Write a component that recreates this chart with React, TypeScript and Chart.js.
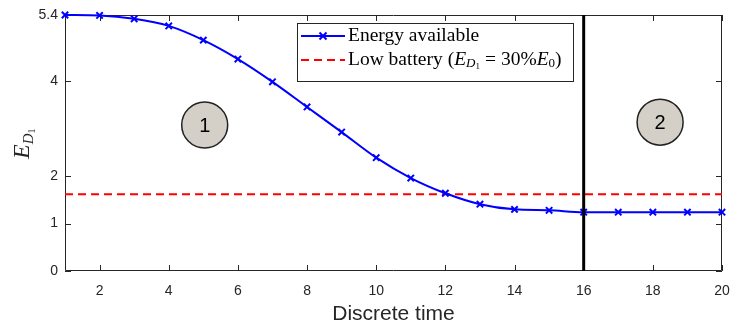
import React, { useEffect, useRef } from "react";
import { Chart, registerables } from "chart.js";
Chart.register(...registerables);

const timeSteps = [1, 2, 3, 4, 5, 6, 7, 8, 9, 10, 11, 12, 13, 14, 15, 16, 17, 18, 19, 20];
const energyAvailable = [5.4, 5.39, 5.32, 5.17, 4.87, 4.47, 3.99, 3.46, 2.93, 2.39, 1.96, 1.64, 1.41, 1.3, 1.28, 1.24, 1.24, 1.24, 1.24, 1.24];
const lowBatteryLevel = 1.62;
const switchTime = 16;
const xTicks = [2, 4, 6, 8, 10, 12, 14, 16, 18, 20];
const yTicks = [0, 1, 2, 4, 5.4];
const regionNames = ["1", "2"];
const regionX = [5.04, 18.21];
const regionY = [3.08, 3.14];

const AXIS_COLOR = "#262626";
const SERIF = "'Liberation Serif', 'DejaVu Serif', serif";
const SANS = "'Liberation Sans', Arial, sans-serif";

const decorPlugin = {
  id: "decor",
  beforeDatasetsDraw(chart: any) {
    const { ctx, chartArea: a, scales } = chart;
    const xs = scales.x, ys = scales.y;
    ctx.save();
    ctx.strokeStyle = AXIS_COLOR;
    ctx.lineWidth = 1;
    ctx.beginPath();
    ctx.rect(a.left + 0.5, a.top + 0.5, a.right - a.left - 1, a.bottom - a.top - 1);
    ctx.stroke();
    const tl = 6;
    ctx.beginPath();
    xTicks.forEach((v) => {
      const px = Math.round(xs.getPixelForValue(v)) + 0.5;
      ctx.moveTo(px, a.bottom);
      ctx.lineTo(px, a.bottom - tl);
      ctx.moveTo(px, a.top);
      ctx.lineTo(px, a.top + tl);
    });
    yTicks.forEach((v) => {
      const py = Math.round(ys.getPixelForValue(v)) + 0.5;
      ctx.moveTo(a.left, py);
      ctx.lineTo(a.left + tl, py);
      ctx.moveTo(a.right, py);
      ctx.lineTo(a.right - tl, py);
    });
    ctx.stroke();
    ctx.restore();
  },
  afterDraw(chart: any) {
    const { ctx, scales } = chart;
    const xs = scales.x, ys = scales.y;
    ctx.save();
    // region circles
    regionNames.forEach((name, i) => {
      const cx = xs.getPixelForValue(regionX[i]);
      const cy = ys.getPixelForValue(regionY[i]);
      ctx.beginPath();
      ctx.arc(cx, cy, 23, 0, Math.PI * 2);
      ctx.fillStyle = "#d4d0c8";
      ctx.fill();
      ctx.lineWidth = 1.5;
      ctx.strokeStyle = "#222";
      ctx.stroke();
      ctx.fillStyle = "#000";
      ctx.font = `20px ${SANS}`;
      ctx.textAlign = "center";
      ctx.textBaseline = "middle";
      ctx.fillText(name, cx, cy + 1);
    });

    // legend
    const lx = 297, ly = 23, lw = 276, lh = 58;
    ctx.fillStyle = "#fff";
    ctx.fillRect(lx, ly, lw, lh);
    ctx.strokeStyle = AXIS_COLOR;
    ctx.lineWidth = 1;
    ctx.strokeRect(lx + 0.5, ly + 0.5, lw, lh);
    const r1 = ly + 13, r2 = ly + 37;
    ctx.strokeStyle = "#0000ff";
    ctx.lineWidth = 2;
    ctx.beginPath();
    ctx.moveTo(lx + 4, r1);
    ctx.lineTo(lx + 48, r1);
    ctx.stroke();
    const mx = lx + 26;
    ctx.beginPath();
    ctx.moveTo(mx - 3.5, r1 - 3.5); ctx.lineTo(mx + 3.5, r1 + 3.5);
    ctx.moveTo(mx - 3.5, r1 + 3.5); ctx.lineTo(mx + 3.5, r1 - 3.5);
    ctx.stroke();
    ctx.strokeStyle = "#ff0000";
    ctx.setLineDash([8, 5]);
    ctx.beginPath();
    ctx.moveTo(lx + 4, r2);
    ctx.lineTo(lx + 48, r2);
    ctx.stroke();
    ctx.setLineDash([]);
    ctx.fillStyle = "#000";
    ctx.textAlign = "left";
    ctx.textBaseline = "middle";
    const tx = lx + 51;
    ctx.font = `19.5px ${SERIF}`;
    ctx.fillText("Energy available", tx, r1);
    let x = tx;
    const part = (t: string, font: string, dy = 0) => {
      ctx.font = font;
      ctx.fillText(t, x, r2 + dy);
      x += ctx.measureText(t).width;
    };
    part("Low battery (", `19.5px ${SERIF}`);
    part("E", `italic 19.5px ${SERIF}`);
    part("D", `italic 13px ${SERIF}`, 4);
    part("1", `9px ${SERIF}`, 7);
    x += 5;
    part("=", `19.5px ${SERIF}`);
    x += 5;
    part("30%", `19.5px ${SERIF}`);
    part("E", `italic 19.5px ${SERIF}`);
    part("0", `13px ${SERIF}`, 4);
    part(")", `19.5px ${SERIF}`);

    // y axis title
    ctx.save();
    ctx.translate(23, 142);
    ctx.rotate(-Math.PI / 2);
    ctx.fillStyle = AXIS_COLOR;
    ctx.textBaseline = "middle";
    let yx = -17;
    const ypart = (t: string, font: string, dy = 0) => {
      ctx.font = font;
      ctx.fillText(t, yx, dy);
      yx += ctx.measureText(t).width;
    };
    ypart("E", `italic 24px ${SERIF}`);
    ypart("D", `italic 15px ${SERIF}`, 6);
    ypart("1", `10px ${SERIF}`, 9);
    ctx.restore();
    ctx.restore();
  },
};

export default function App() {
  const ref = useRef<HTMLCanvasElement | null>(null);
  useEffect(() => {
    document.body.style.margin = "0";
    const canvas = ref.current!;
    const chart = new Chart(canvas, {
      type: "line",
      data: {
        datasets: [
          {
            label: "Energy available",
            data: timeSteps.map((t, i) => ({ x: t, y: energyAvailable[i] })),
            borderColor: "#0000ff",
            backgroundColor: "#0000ff",
            borderWidth: 2,
            pointStyle: "crossRot",
            pointRadius: 4.5,
            pointBorderWidth: 2,
            cubicInterpolationMode: "monotone",
            fill: false,
            clip: false,
            order: 1,
          },
          {
            label: "Low battery",
            data: [
              { x: timeSteps[0], y: lowBatteryLevel },
              { x: timeSteps[timeSteps.length - 1], y: lowBatteryLevel },
            ],
            borderColor: "#ff0000",
            borderWidth: 2,
            borderDash: [8, 5],
            pointRadius: 0,
            fill: false,
            order: 2,
          },
          {
            label: "switch",
            data: [
              { x: switchTime, y: yTicks[0] },
              { x: switchTime, y: yTicks[yTicks.length - 1] },
            ],
            borderColor: "#000000",
            borderWidth: 3,
            pointRadius: 0,
            fill: false,
            order: 0,
          },
        ],
      },
      options: {
        responsive: false,
        animation: false,
        layout: { padding: { top: 15, right: 11, left: 0, bottom: 0 } },
        plugins: { legend: { display: false }, tooltip: { enabled: false } },
        scales: {
          x: {
            type: "linear",
            min: 1,
            max: 20,
            grid: { display: false, drawTicks: false },
            border: { display: false },
            afterBuildTicks: (axis: any) => {
              axis.ticks = xTicks.map((v) => ({ value: v }));
            },
            afterFit: (axis: any) => {
              axis.height = 58;
              axis.paddingLeft = 0;
              axis.paddingRight = 0;
            },
            ticks: {
              color: AXIS_COLOR,
              font: { family: SANS, size: 14 },
              padding: 12,
              maxRotation: 0,
              autoSkip: false,
              callback: (v: any) => String(v),
            },
            title: {
              display: true,
              text: "Discrete time",
              color: AXIS_COLOR,
              font: { family: SANS, size: 21 },
              padding: { top: 0, bottom: 2 },
            },
          },
          y: {
            type: "linear",
            min: 0,
            max: 5.4,
            grid: { display: false, drawTicks: false },
            border: { display: false },
            afterBuildTicks: (axis: any) => {
              axis.ticks = yTicks.map((v) => ({ value: v }));
            },
            afterFit: (axis: any) => {
              axis.width = 65;
              axis.paddingTop = 0;
              axis.paddingBottom = 0;
            },
            ticks: {
              color: AXIS_COLOR,
              font: { family: SANS, size: 14 },
              padding: 7,
              autoSkip: false,
              callback: (v: any) => String(v),
            },
          },
        },
      },
      plugins: [decorPlugin],
    } as any);
    return () => chart.destroy();
  }, []);
  return (
    <div style={{ width: 733, height: 329 }}>
      <canvas ref={ref} width={733} height={329} style={{ display: "block" }} />
    </div>
  );
}
